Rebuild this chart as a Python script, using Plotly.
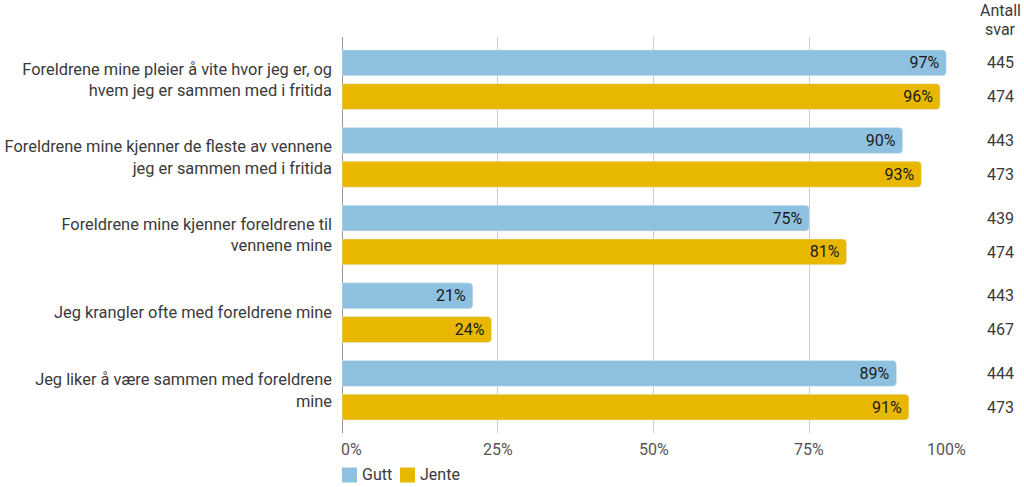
import plotly.graph_objects as go

categories = [
    "Foreldrene mine pleier å vite hvor jeg er, og<br>hvem jeg er sammen med i fritida",
    "Foreldrene mine kjenner de fleste av vennene<br>jeg er sammen med i fritida",
    "Foreldrene mine kjenner foreldrene til<br>vennene mine",
    "Jeg krangler ofte med foreldrene mine",
    "Jeg liker å være sammen med foreldrene<br>mine",
]
gutt = [97, 90, 75, 21, 89]
jente = [96, 93, 81, 24, 91]
antall_gutt = [445, 443, 439, 443, 444]
antall_jente = [474, 473, 474, 467, 473]
x_ticks = [0, 25, 50, 75, 100]
x_ticklabels = ["0%", "25%", "50%", "75%", "100%"]
series_names = ["Gutt", "Jente"]
header_lines = ["Antall", "svar"]

BLUE = "#8EC1DF"
YELLOW = "#E8B800"
FONT = "Roboto"
TXT = "#3a3a3a"

W, H = 1024, 487
ML, MR, MT, MB = 342, 59, 37, 54
PW, PH = W - ML - MR, H - MT - MB


def py(pix):
    """pixel row -> paper y"""
    return (MT + PH - pix) / PH


def px_(pix):
    """pixel column -> paper x"""
    return (pix - ML) / PW


fig = go.Figure()
for name, vals, col in ((series_names[0], gutt, BLUE), (series_names[1], jente, YELLOW)):
    fig.add_trace(go.Bar(
        name=name, y=categories, x=vals, orientation="h",
        marker=dict(color=col, cornerradius=4),
        text=[f"{v}%\u00a0" for v in vals], textposition="inside", insidetextanchor="end",
        textfont=dict(color="#1a1a1a", size=16, family=FONT),
        hoverinfo="skip", showlegend=False,
    ))

# right column: number of answers
for i, cat in enumerate(categories):
    for val, off in ((antall_gutt[i], -17), (antall_jente[i], 17)):
        fig.add_annotation(x=px_(1000), xref="paper", y=cat, yref="y", yshift=-off,
                           text=str(val), showarrow=False,
                           font=dict(size=16, color=TXT, family=FONT),
                           xanchor="center", yanchor="middle")
for line, row in zip(header_lines, (10, 29)):
    fig.add_annotation(x=px_(1000), xref="paper", y=py(row), yref="paper",
                       text=line, showarrow=False,
                       font=dict(size=16, color=TXT, family=FONT),
                       xanchor="center", yanchor="middle")

# x tick labels (first left-aligned, last right-aligned)
for i, (v, lab) in enumerate(zip(x_ticks, x_ticklabels)):
    if i == 0:
        anchor, shift = "left", -3
    elif i == len(x_ticks) - 1:
        anchor, shift = "right", 3
    else:
        anchor, shift = "center", 0
    fig.add_annotation(x=v, xref="x", y=py(449), yref="paper", text=lab,
                       showarrow=False, xanchor=anchor, yanchor="middle", xshift=shift,
                       font=dict(size=16, color="#555", family=FONT))

# manual legend
sq_h = 15 / PH
legend_items = [(series_names[0], BLUE, 342), (series_names[1], YELLOW, 400)]
for name, col, pxl in legend_items:
    fig.add_shape(type="rect", xref="paper", yref="paper",
                  x0=px_(pxl), x1=px_(pxl + 15), y0=py(475) - sq_h / 2, y1=py(475) + sq_h / 2,
                  fillcolor=col, line=dict(width=0))
    fig.add_annotation(x=px_(pxl + 18), xref="paper", y=py(475), yref="paper",
                       text=name, showarrow=False, xanchor="left", yanchor="middle",
                       font=dict(size=16, color=TXT, family=FONT))

fig.update_layout(
    width=W, height=H,
    margin=dict(l=ML, r=MR, t=MT, b=MB, autoexpand=False),
    paper_bgcolor="white", plot_bgcolor="white",
    barmode="group", bargap=0.13, bargroupgap=0.235,
    font=dict(family=FONT, color=TXT, size=16),
    showlegend=False,
    xaxis=dict(range=[0, 100], tickmode="array", tickvals=x_ticks,
               showticklabels=False, automargin=False,
               showgrid=True, gridcolor="#cccccc", gridwidth=1,
               zeroline=True, zerolinecolor="#999999", zerolinewidth=1,
               fixedrange=True),
    yaxis=dict(categoryorder="array", categoryarray=categories,
               autorange=False, range=[4.55, -0.55], automargin=False,
               tickfont=dict(size=16.4, color=TXT, family=FONT),
               ticks="", ticklabelstandoff=9, showgrid=False, fixedrange=True),
)

fig.write_html("out.html", post_script="document.body.style.margin='0';",
               config={"displayModeBar": False})
